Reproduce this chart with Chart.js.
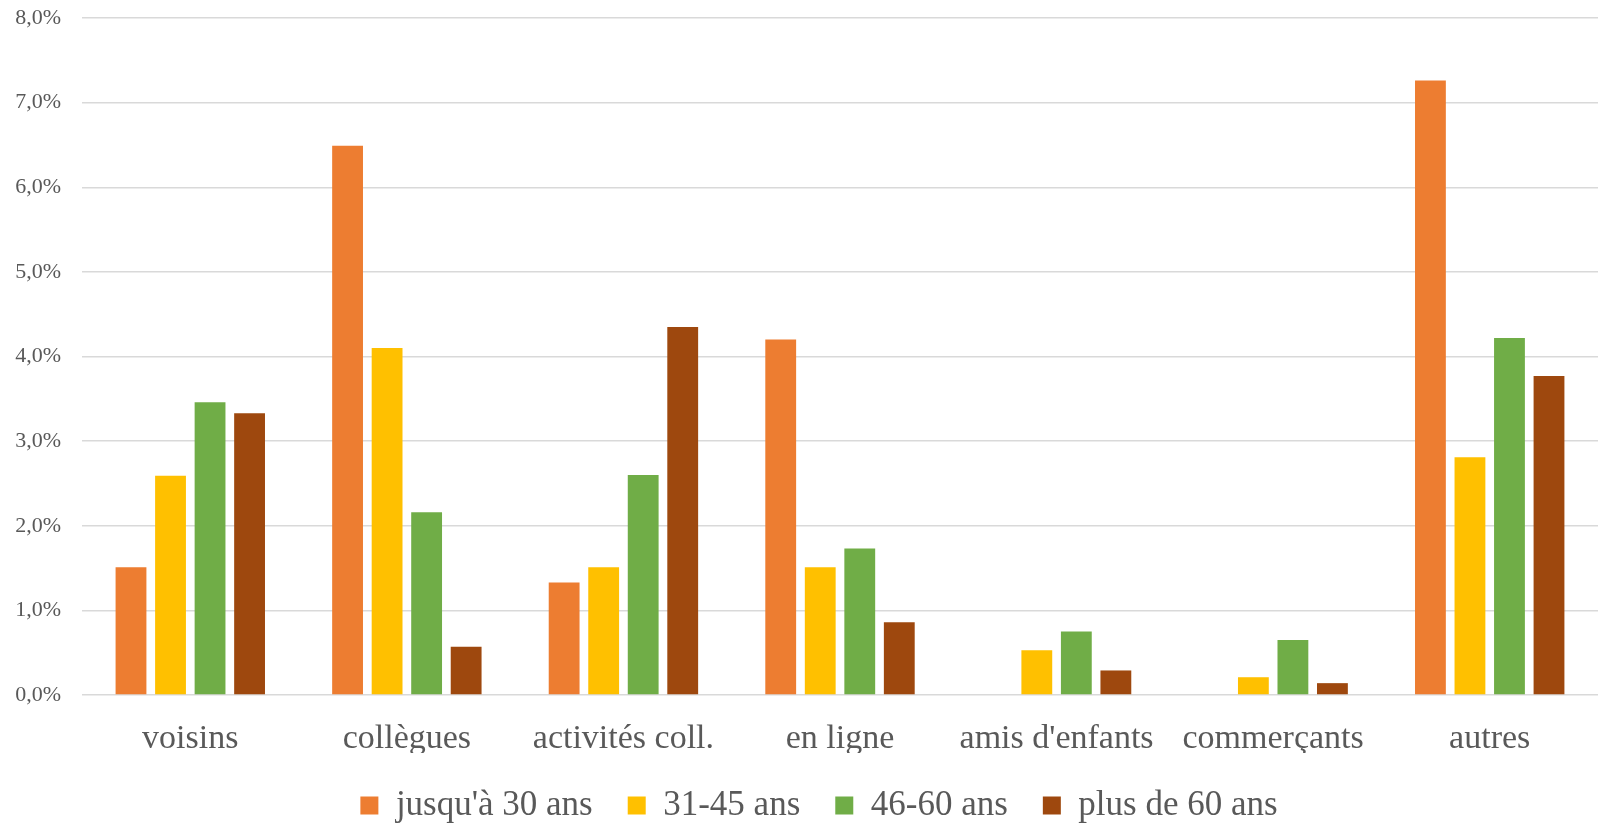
<!DOCTYPE html>
<html>
<head>
<meta charset="utf-8">
<script src="https://cdn.jsdelivr.net/npm/chart.js@4"></script>
<style>
  body { margin: 0; background: #fff; }
  #wrap { width: 1606px; height: 827px; }
</style>
</head>
<body>
<div id="wrap"><canvas id="chart" width="1606" height="827"></canvas></div>
<script>
const categories = ['voisins', 'collègues', 'activités coll.', 'en ligne', "amis d'enfants", 'commerçants', 'autres'];
const seriesNames = ["jusqu'à 30 ans", '31-45 ans', '46-60 ans', 'plus de 60 ans'];
const upTo30 = [1.51, 6.49, 1.33, 4.20, 0, 0, 7.26];
const from31to45 = [2.59, 4.10, 1.51, 1.51, 0.53, 0.21, 2.81];
const from46to60 = [3.46, 2.16, 2.60, 1.73, 0.75, 0.65, 4.22];
const over60 = [3.33, 0.57, 4.35, 0.86, 0.29, 0.14, 3.77];
const yTicks = [0, 1, 2, 3, 4, 5, 6, 7, 8];
const colors = ['#ED7D31', '#FFC000', '#70AD47', '#9E480E'];

const seriesValues = [upTo30, from31to45, from46to60, over60];
const textColor = '#595959';
const fontFamily = "'Liberation Serif', 'DejaVu Serif', serif";

// legend is centred on the plot area, not the whole canvas
const legendShift = {
    id: 'legendShift',
    afterLayout: function(chart) {
        chart.legend.left += 20;
        chart.legend.right += 20;
    }
};

const ctx = document.getElementById('chart');
const chart = new Chart(ctx, {
    type: 'bar',
    data: {
        labels: categories,
        datasets: seriesNames.map(function(name, i) {
            return {
                label: name,
                data: seriesValues[i],
                backgroundColor: colors[i],
                borderWidth: 0,
                categoryPercentage: 0.73,
                barPercentage: 0.78
            };
        })
    },
    options: {
        responsive: false,
        animation: false,
        layout: {
            padding: { top: 18, right: 8, bottom: -6, left: 0 }
        },
        plugins: {
            legend: {
                position: 'bottom',
                labels: {
                    color: textColor,
                    font: { family: fontFamily, size: 35 },
                    boxWidth: 18,
                    boxHeight: 18,
                    padding: 35
                }
            },
            tooltip: { enabled: false }
        },
        scales: {
            x: {
                grid: { display: false },
                border: { display: false },
                afterFit: function(scale) {
                    scale.height = 58;
                },
                ticks: {
                    color: textColor,
                    font: { family: fontFamily, size: 34 },
                    padding: 16
                }
            },
            y: {
                min: 0,
                max: 8,
                afterBuildTicks: function(scale) {
                    scale.ticks = yTicks.map(function(v) { return { value: v }; });
                },
                afterFit: function(scale) {
                    scale.width = 82;
                    scale.paddingTop = 0;
                    scale.paddingBottom = 0;
                },
                grid: {
                    color: '#d9d9d9',
                    lineWidth: 1.5,
                    drawTicks: false
                },
                border: { display: false },
                ticks: {
                    color: textColor,
                    font: { family: fontFamily, size: 22 },
                    padding: 21,
                    callback: function(value) {
                        return value.toFixed(1).replace('.', ',') + '%';
                    }
                }
            }
        }
    },
    plugins: [legendShift]
});
</script>
</body>
</html>
